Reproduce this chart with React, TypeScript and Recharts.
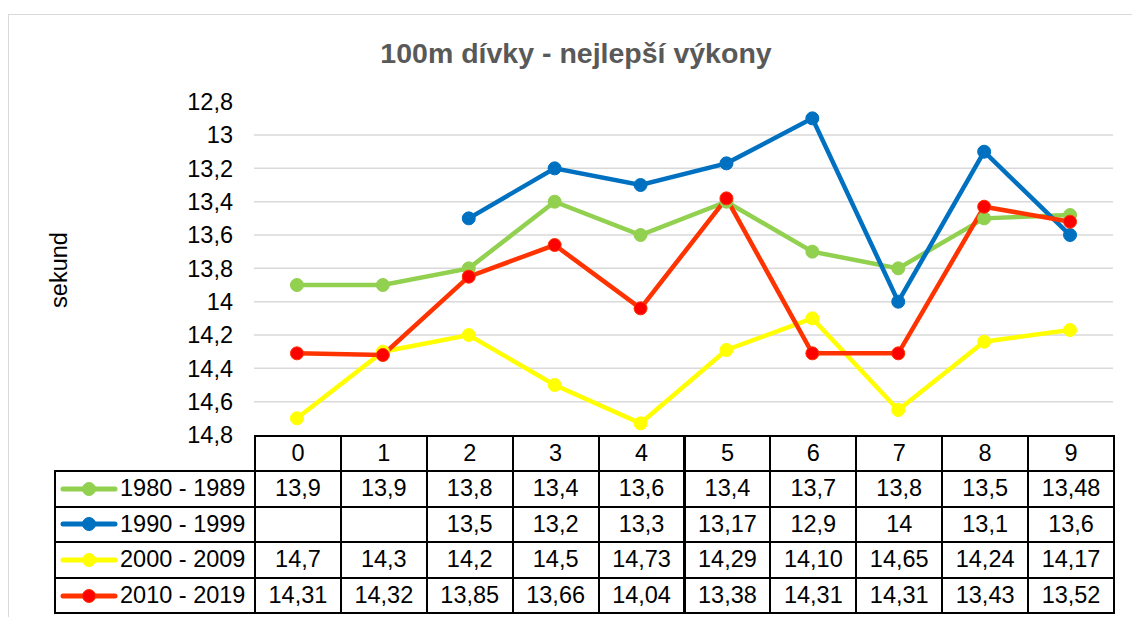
import React from "react";
import { LineChart, Line, XAxis, YAxis, ReferenceLine } from "recharts";

const categories = ["0", "1", "2", "3", "4", "5", "6", "7", "8", "9"];

// table texts, as they appear in the data table (comma decimals)
const s1980 = ["13,9", "13,9", "13,8", "13,4", "13,6", "13,4", "13,7", "13,8", "13,5", "13,48"];
const s1990 = ["", "", "13,5", "13,2", "13,3", "13,17", "12,9", "14", "13,1", "13,6"];
const s2000 = ["14,7", "14,3", "14,2", "14,5", "14,73", "14,29", "14,10", "14,65", "14,24", "14,17"];
const s2010 = ["14,31", "14,32", "13,85", "13,66", "14,04", "13,38", "14,31", "14,31", "13,43", "13,52"];

const seriesNames = ["1980 - 1989", "1990 - 1999", "2000 - 2009", "2010 - 2019"];
const yTicks = [12.8, 13, 13.2, 13.4, 13.6, 13.8, 14, 14.2, 14.4, 14.6, 14.8];
const gridValues = [13, 13.2, 13.4, 13.6, 13.8, 14, 14.2, 14.4, 14.6];

const toNum = (s: string) => (s === "" ? null : parseFloat(s.replace(",", ".")));

const series = [
  { key: "a", name: seriesNames[0], texts: s1980, stroke: "#92d050", fill: "#92d050" },
  { key: "b", name: seriesNames[1], texts: s1990, stroke: "#0070c0", fill: "#0070c0" },
  { key: "c", name: seriesNames[2], texts: s2000, stroke: "#ffff00", fill: "#ffff00" },
  { key: "d", name: seriesNames[3], texts: s2010, stroke: "#ff3300", fill: "#ff0000" },
];

const data = categories.map((c, i) => {
  const row: Record<string, string | number | null> = { cat: c };
  series.forEach((s) => (row[s.key] = toNum(s.texts[i])));
  return row;
});

const FONT = "'Liberation Sans', Arial, sans-serif";
const FS = 23.5;

// layout
const PLOT_LEFT = 254;
const PLOT_RIGHT = 1113;
const PLOT_TOP = 101.7;
const PLOT_BOTTOM = 435;
const COL_W = (PLOT_RIGHT - PLOT_LEFT) / categories.length;
const LABEL_LEFT = 54;
const HEADER_H = 35;
const ROW_H = 35.6;

const cellBase: React.CSSProperties = {
  position: "absolute",
  boxSizing: "border-box",
  display: "flex",
  alignItems: "center",
  justifyContent: "center",
  fontSize: FS,
  color: "#000",
};

function DataTable() {
  const cells: React.ReactNode[] = [];
  categories.forEach((c, i) => {
    cells.push(
      <div
        key={"h" + i}
        style={{
          ...cellBase,
          left: PLOT_LEFT + i * COL_W,
          top: PLOT_BOTTOM,
          width: COL_W + 2,
          height: HEADER_H + 2,
          border: "2px solid #000",
        }}
      >
        {c}
      </div>
    );
  });
  series.forEach((s, r) => {
    const top = PLOT_BOTTOM + HEADER_H + r * ROW_H;
    cells.push(
      <div
        key={"l" + r}
        style={{
          ...cellBase,
          left: LABEL_LEFT,
          top,
          width: PLOT_LEFT - LABEL_LEFT + 2,
          height: ROW_H + 2,
          border: "2px solid #000",
          justifyContent: "flex-start",
          paddingLeft: 4,
          whiteSpace: "nowrap",
        }}
      >
        <svg width={58} height={16} style={{ marginRight: 2, flexShrink: 0 }}>
          <line x1={3} y1={8} x2={55} y2={8} stroke={s.stroke} strokeWidth={5} strokeLinecap="round" />
          <circle cx={29} cy={8} r={6.5} fill={s.fill} stroke={s.stroke} strokeWidth={1} />
        </svg>
        {s.name}
      </div>
    );
    s.texts.forEach((t, i) => {
      cells.push(
        <div
          key={"c" + r + "-" + i}
          style={{
            ...cellBase,
            left: PLOT_LEFT + i * COL_W,
            top,
            width: COL_W + 2,
            height: ROW_H + 2,
            border: "2px solid #000",
          }}
        >
          {t}
        </div>
      );
    });
  });
  return <>{cells}</>;
}

export default function App() {
  return (
    <div
      style={{
        position: "absolute",
        left: 0,
        top: 0,
        width: 1132,
        height: 617,
        background: "#fff",
        fontFamily: FONT,
        overflow: "hidden",
      }}
    >
      <div
        style={{
          position: "absolute",
          left: 8,
          top: 14,
          width: 1140,
          height: 620,
          border: "1.5px solid #d9d9d9",
          boxSizing: "border-box",
        }}
      />
      <div
        style={{
          position: "absolute",
          left: 0,
          top: 53,
          width: 1152,
          textAlign: "center",
          fontSize: 28.5,
          lineHeight: "1",
          fontWeight: "bold",
          color: "#595959",
          transform: "translateY(-50%)",
        }}
      >
        100m dívky - nejlepší výkony
      </div>
      <div
        style={{
          position: "absolute",
          left: 60,
          top: 270,
          fontSize: FS,
          lineHeight: "1",
          color: "#000",
          transform: "translate(-50%, -50%) rotate(-90deg)",
          whiteSpace: "nowrap",
        }}
      >
        sekund
      </div>
      <div style={{ position: "absolute", left: 0, top: 0 }}>
        <LineChart
          width={1132}
          height={617}
          data={data}
          margin={{ top: PLOT_TOP, right: 1132 - PLOT_RIGHT, bottom: 617 - PLOT_BOTTOM, left: PLOT_LEFT - 80 }}
        >
          <XAxis dataKey="cat" hide padding={{ left: COL_W / 2, right: COL_W / 2 }} />
          <YAxis
            width={80}
            domain={[12.8, 14.8]}
            ticks={yTicks}
            reversed
            interval={0}
            axisLine={false}
            tickLine={false}
            tickSize={0}
            tickMargin={21}
            tick={{ fill: "#000", fontSize: FS, fontFamily: FONT }}
            tickFormatter={(v: number) => String(v).replace(".", ",")}
          />
          {gridValues.map((v) => (
            <ReferenceLine key={v} y={v} stroke="#d9d9d9" strokeWidth={1.5} />
          ))}
          {series.map((s) => (
            <Line
              key={s.key}
              dataKey={s.key}
              name={s.name}
              type="linear"
              stroke={s.stroke}
              strokeWidth={4.5}
              dot={{ r: 6.5, fill: s.fill, stroke: s.stroke, strokeWidth: 1 }}
              isAnimationActive={false}
            />
          ))}
        </LineChart>
      </div>
      <DataTable />
    </div>
  );
}
